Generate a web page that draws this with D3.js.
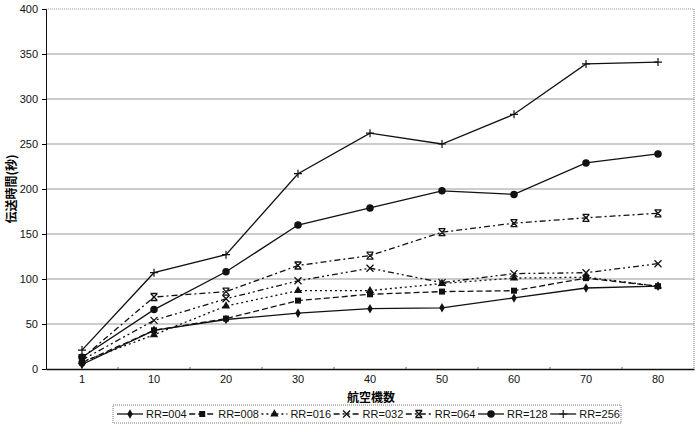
<!DOCTYPE html>
<meta charset="utf-8">
<style>
 body { margin: 0; background: #fff; }
 svg { font-family: "Liberation Sans", Arial, sans-serif; background: #fff; }
 .tick text { font-size: 11px; fill: #111; }
 .grid line { stroke: #9a9a9a; stroke-width: 1.2px; }
 .series path.line { fill: none; stroke: #111; stroke-width: 1.3px; }
</style>
<body>
<svg width="700" height="432"></svg>
<script src="https://cdn.jsdelivr.net/npm/d3@7/dist/d3.min.js"></script>
<script>

 // categories on the x axis (number of aircraft)
 var cats = ["1", "10", "20", "30", "40", "50", "60", "70", "80"];
 var yTicks = [0, 50, 100, 150, 200, 250, 300, 350, 400];

 // transfer time (sec) per RR value
 var rr004 = [5, 43, 55, 62, 67, 68, 79, 90, 92];
 var rr008 = [7, 43, 56, 76, 83, 86, 87, 101, 92];
 var rr016 = [8, 38, 70, 87, 87, 95, 101, 102, 92];
 var rr032 = [10, 54, 78, 98, 112, 96, 106, 107, 117];
 var rr064 = [12, 80, 86, 115, 126, 152, 162, 168, 173];
 var rr128 = [13, 66, 108, 160, 179, 198, 194, 229, 239];
 var rr256 = [21, 107, 127, 217, 262, 250, 283, 339, 341];

 var names = ["RR=004", "RR=008", "RR=016", "RR=032", "RR=064", "RR=128", "RR=256"];

 /* marker + dash per series */
 var styles = [
     { dash: null,            mark: "diamond" },
     { dash: "6,3",           mark: "square" },
     { dash: "2,3",           mark: "triangle" },
     { dash: "6,3,2,3,2,3",   mark: "x" },
     { dash: "6,3,2,3",       mark: "xbar" },
     { dash: null,            mark: "circle" },
     { dash: null,            mark: "plus" }
 ];
 var series = [rr004, rr008, rr016, rr032, rr064, rr128, rr256].map(function(v, i){
     return { name: names[i], values: v, style: styles[i] };
 });

 var svg = d3.select("svg"),
     margin = {top: 9, right: 6, bottom: 63, left: 46},
     width = +svg.attr("width") - margin.left - margin.right,
     height = +svg.attr("height") - margin.top - margin.bottom,
     g = svg.append("g").attr("transform", "translate(" + margin.left + "," + margin.top + ")");

 var x = d3.scaleBand().domain(cats).range([0, width]);
 var y = d3.scaleLinear().domain([0, 400]).range([height, 0]);

 // gridlines
 g.append("g").attr("class", "grid")
  .selectAll("line").data(yTicks.slice(1)).enter().append("line")
  .attr("x1", 0).attr("x2", width)
  .attr("y1", function(d){ return y(d); }).attr("y2", function(d){ return y(d); })
  .style("stroke-dasharray", function(d){ return d == 400 ? "1,1" : null; });

 // right border (dotted)
 g.append("line").attr("x1", width).attr("x2", width).attr("y1", 0).attr("y2", height)
  .style("stroke", "#777").style("stroke-dasharray", "1,1");

 var yAxis = d3.axisLeft(y).tickValues(yTicks).tickSize(4).tickPadding(4);
 var yG = g.append("g").call(yAxis);
 yG.select(".domain").style("stroke", "#111");

 var xAxis = d3.axisBottom(x).tickSize(0).tickPadding(6);
 var xG = g.append("g").attr("transform", "translate(0," + height + ")").call(xAxis);
 xG.select(".domain").style("stroke", "#111").style("stroke-width", "1.3px");
 // small boundary ticks between categories
 xG.selectAll(".minor").data(cats.slice(1)).enter().append("line")
   .attr("x1", function(d){ return x(d); }).attr("x2", function(d){ return x(d); })
   .attr("y1", 0).attr("y2", -2).style("stroke", "#666");

 // axis titles
 svg.append("text")
    .attr("x", margin.left + width / 2 + 1).attr("y", 402)
    .attr("text-anchor", "middle")
    .style("font-family", "'Noto Sans CJK JP'").style("font-size", "12px").style("font-weight", "bold")
    .text("航空機数");
 svg.append("text")
    .attr("transform", "translate(16," + (margin.top + height / 2) + ") rotate(-90)")
    .attr("text-anchor", "middle")
    .style("font-family", "'Noto Sans CJK JP'").style("font-size", "12px").style("font-weight", "bold")
    .text("伝送時間(秒)");

 /* Note: marker drawing, stroked ones are paths, filled ones use d3 symbols */
 function drawMark(sel, type){
     if(type == "diamond") sel.append("path").attr("d", d3.symbol(d3.symbolDiamond, 26)()).style("fill", "#111");
     else if(type == "square") sel.append("path").attr("d", d3.symbol(d3.symbolSquare, 36)()).style("fill", "#111");
     else if(type == "triangle") sel.append("path").attr("d", d3.symbol(d3.symbolTriangle, 30)()).style("fill", "#111");
     else if(type == "circle") sel.append("path").attr("d", d3.symbol(d3.symbolCircle, 44)()).style("fill", "#111");
     else if(type == "x") sel.append("path").attr("d", "M-3.5,-3.5L3.5,3.5M3.5,-3.5L-3.5,3.5")
         .style("stroke", "#111").style("stroke-width", 1.3).style("fill", "none");
     else if(type == "xbar") sel.append("path").attr("d", "M-3,-3L3,3M3,-3L-3,3M-3.5,-3.5H3.5M-3.5,3.5H3.5")
         .style("stroke", "#111").style("stroke-width", 1.3).style("fill", "none");
     else if(type == "plus") sel.append("path").attr("d", "M0,-4V4M-4,0H4")
         .style("stroke", "#111").style("stroke-width", 1.2).style("fill", "none");
 }

 var line = d3.line()
     .x(function(d, i){ return x(cats[i]) + x.bandwidth() / 2; })
     .y(function(d){ return y(d); });

 var sG = g.selectAll(".series").data(series).enter().append("g").attr("class", "series");
 sG.append("path").attr("class", "line")
   .attr("d", function(d){ return line(d.values); })
   .style("stroke-dasharray", function(d){ return d.style.dash; });
 sG.each(function(s){
     d3.select(this).selectAll(".pt").data(s.values).enter().append("g")
       .attr("class", "pt")
       .attr("transform", function(d, i){ return "translate(" + (x(cats[i]) + x.bandwidth() / 2) + "," + y(d) + ")"; })
       .each(function(){ drawMark(d3.select(this), s.style.mark); });
 });

 // legend
 var lg = svg.append("g").attr("transform", "translate(113,405)");
 lg.append("rect").attr("width", 508).attr("height", 18)
   .style("fill", "none").style("stroke", "#777").style("stroke-dasharray", "1,1");
 var item = lg.selectAll(".item").data(series).enter().append("g")
   .attr("transform", function(d, i){ return "translate(" + (4 + i * 72.2) + ",9)"; });
 item.append("line").attr("x1", 0).attr("x2", 26)
   .style("stroke", "#111").style("stroke-width", 1.3)
   .style("stroke-dasharray", function(d){ return d.style.dash; });
 item.append("g").attr("transform", "translate(13,0)").each(function(d){ drawMark(d3.select(this), d.style.mark); });
 item.append("text").attr("x", 29).attr("dy", "0.35em")
   .style("font-size", "11px").style("fill", "#111")
   .text(function(d){ return d.name; });

</script>
</body>
</html>
